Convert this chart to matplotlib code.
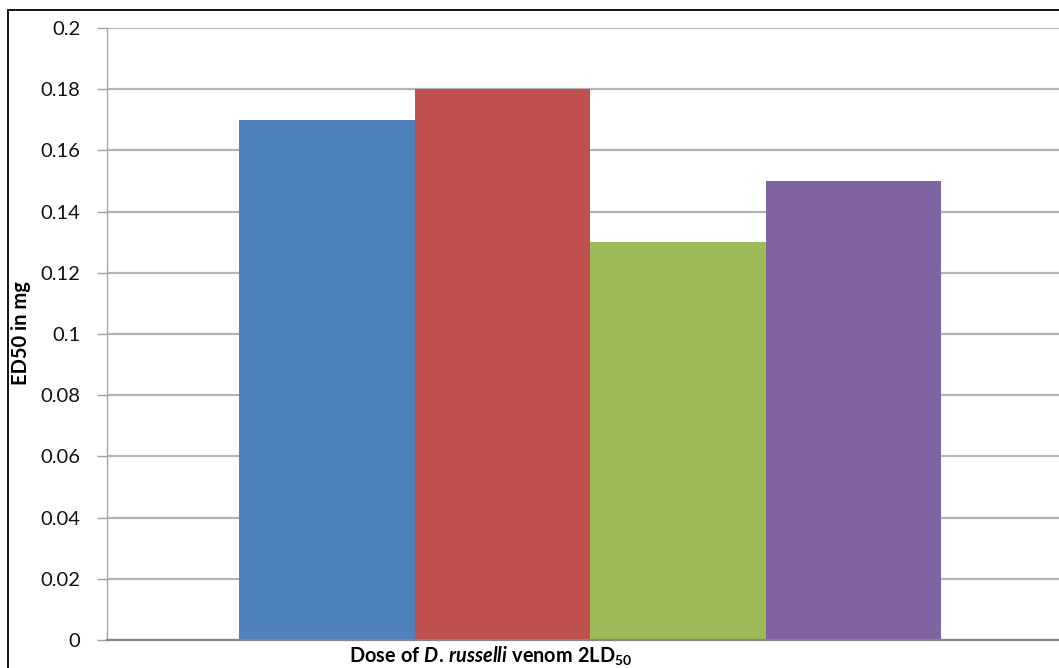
import matplotlib
matplotlib.use("Agg")
import matplotlib.pyplot as plt
from matplotlib.patches import Rectangle

# ED50 per antivenom batch against D. russelli venom
batches = ["A", "B", "C", "D"]
ed50 = [0.17, 0.18, 0.13, 0.15]
colors = ["#4F81BD", "#C0504D", "#9BBB59", "#8064A2"]
yticks = [0, 0.02, 0.04, 0.06, 0.08, 0.1, 0.12, 0.14, 0.16, 0.18, 0.2]
ytick_labels = ["0", "0.02", "0.04", "0.06", "0.08", "0.1", "0.12", "0.14", "0.16", "0.18", "0.2"]

plt.rcParams["font.family"] = ["Lato", "DejaVu Sans"]
plt.rcParams["mathtext.fontset"] = "custom"
plt.rcParams["mathtext.rm"] = "Lato:bold"
plt.rcParams["mathtext.it"] = "Lato:bold:italic"
plt.rcParams["mathtext.bf"] = "Lato:bold"

W, H = 1059, 668
fig = plt.figure(figsize=(W / 100, H / 100), dpi=100)
fig.patch.set_facecolor("white")

# plot area runs slightly past the right edge of the figure
left, right, top, bottom = 107, 1073, 28, 640
ax = fig.add_axes([left / W, 1 - bottom / H, (right - left) / W, (bottom - top) / H])

x = list(range(len(batches)))
ax.bar(x, ed50, width=1.0, color=colors, zorder=3)

# bars are 175.5 px wide, first bar starts at x=239
px = 175.5
ax.set_xlim(-0.5 - (239 - left) / px, 3.5 + (right - 941) / px)
ax.set_ylim(0, 0.2)
ax.set_yticks(yticks)
ax.set_yticklabels(ytick_labels, fontsize=14.5, color="#111111")
ax.set_xticks([])

ax.yaxis.grid(True, color="#b4b4b4", linewidth=1.6, zorder=0)
ax.tick_params(axis="y", length=7, width=1, color="#a0a0a0", pad=12)
for s in ["top", "right"]:
    ax.spines[s].set_visible(False)
ax.spines["left"].set_color("#a6a6a6")
ax.spines["left"].set_linewidth(1)
ax.spines["bottom"].set_color("#868686")
ax.spines["bottom"].set_linewidth(1.6)
ax.spines["bottom"].set_zorder(4)

fig.text(21 / W, 1 - 333 / H, "ED50 in mg", rotation=90, fontsize=14.5,
         fontweight="bold", ha="center", va="center")
fig.text(349 / W, 1 - 656 / H,
         r"$\mathrm{Dose\ of\ }\mathit{D.\,russelli}\mathrm{\ venom\ 2LD}_{\mathrm{50}}$",
         fontsize=14.3, ha="left", va="center")

# outer chart border
fig.patches.append(Rectangle((8 / W, -0.1), 1.2, 1 - 10 / H + 0.1,
                             transform=fig.transFigure, fill=False,
                             edgecolor="black", linewidth=1.3))

fig.savefig("out.png", dpi=100)
